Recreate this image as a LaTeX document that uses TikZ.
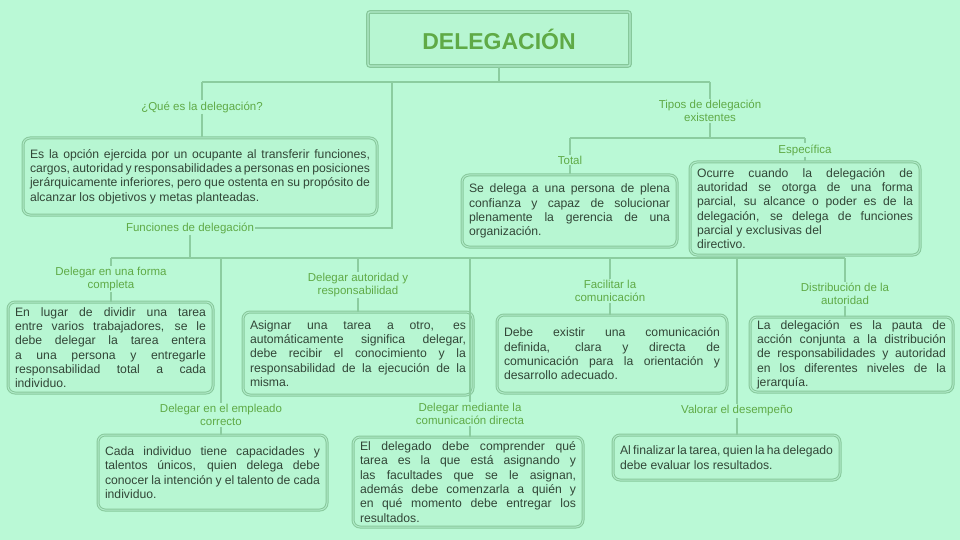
\documentclass[tikz,border=0pt]{standalone}
\usepackage{fontspec}
\setmainfont{Liberation Sans}
\definecolor{bgc}{RGB}{186,249,214}
\definecolor{boxc}{RGB}{135,200,155}
\definecolor{boxin}{RGB}{175,235,200}
\definecolor{boxfill}{RGB}{183,246,210}
\definecolor{linec}{RGB}{140,205,160}
\definecolor{labc}{RGB}{95,170,70}
\definecolor{txtc}{RGB}{50,70,55}
\newcommand{\nohy}{\hyphenpenalty=10000\exhyphenpenalty=10000\tolerance=9999\emergencystretch=20pt}
\tikzset{
  cbox/.style={rectangle, rounded corners=7pt, draw=boxc, line width=1pt,
    double=boxin, double distance=1pt, fill=boxfill, align=justify,
    text=txtc, font=\fontsize{12.2}{14.3}\selectfont\nohy, inner xsep=7pt, inner ysep=3pt},
  lab/.style={text=labc, align=center, font=\fontsize{11.5}{13.5}\selectfont, inner sep=1pt},
  conn/.style={draw=linec, line width=1.3pt},
}
\begin{document}
\begin{tikzpicture}[x=1pt,y=-1pt]
\fill[bgc] (0,0) rectangle (960,540);
\useasboundingbox (0,0) rectangle (960,540);

% title
\node[rectangle, rounded corners=2pt, draw=boxc, line width=1.2pt, double=boxin, double distance=1.2pt,
  fill=boxfill, minimum width=262pt, minimum height=54pt, text=labc,
  font=\fontsize{23}{26}\selectfont\bfseries] (title) at (499,39) {DELEGACIÓN};

% labels
\node[lab] (lque) at (202,107) {¿Qué es la delegación?};
\node[lab] (ltipos) at (710,111) {Tipos de delegación\\existentes};
\node[lab] (ltotal) at (570,160) {Total};
\node[lab] (lesp) at (805,150) {Específica};
\node[lab] (lfun) at (190,228) {Funciones de delegación};
\node[lab] (lcomp) at (111,279) {Delegar en una forma\\completa};
\node[lab] (laut) at (358,285) {Delegar autoridad y\\responsabilidad};
\node[lab] (lfac) at (610,291) {Facilitar la\\comunicación};
\node[lab] (ldis) at (845,294) {Distribución de la\\autoridad};
\node[lab] (lemp) at (221,415) {Delegar en el empleado\\correcto};
\node[lab] (ldir) at (470,414) {Delegar mediante la\\comunicación directa};
\node[lab] (lval) at (737,411) {Valorar el desempeño};

% boxes
\node[cbox, minimum width=354pt, minimum height=77pt, text width=340pt] (bque) at (200,176.5)
 {Es la opción ejercida por un ocupante al transferir funciones, cargos, autoridad y responsabilidades a personas en posiciones jerárquicamente inferiores, pero que ostenta en su propósito de alcanzar los objetivos y metas planteadas.};
\node[cbox, minimum width=215pt, minimum height=72pt, text width=201pt] (btotal) at (569.5,211)
 {Se delega a una persona de plena confianza y capaz de solucionar plenamente la gerencia de una organización.};
\node[cbox, minimum width=230pt, minimum height=93pt, text width=216pt] (besp) at (805,208.5)
 {Ocurre cuando la delegación de autoridad se otorga de una forma parcial, su alcance o poder es de la delegación, se delega de funciones parcial y exclusivas del\newline directivo.};
\node[cbox, minimum width=205pt, minimum height=91pt, text width=191pt] (bcomp) at (110.5,347.5)
 {En lugar de dividir una tarea entre varios trabajadores, se le debe delegar la tarea entera a una persona y entregarle responsabilidad total a cada individuo.};
\node[cbox, minimum width=230pt, minimum height=83pt, text width=216pt] (baut) at (358,353.5)
 {Asignar una tarea a otro, es automáticamente significa delegar, debe recibir el conocimiento y la responsabilidad de la ejecución de la misma.};
\node[cbox, minimum width=230pt, minimum height=78pt, text width=216pt] (bfac) at (612,354)
 {Debe existir una comunicación\linebreak definida, clara y directa de\linebreak comunicación para la orientación y\linebreak desarrollo adecuado.};
\node[cbox, minimum width=203pt, minimum height=75pt, text width=189pt] (bdis) at (851.5,354.5)
 {La delegación es la pauta de acción conjunta a la distribución de responsabilidades y autoridad en los diferentes niveles de la jerarquía.};
\node[cbox, minimum width=229pt, minimum height=75pt, text width=215pt] (bemp) at (212.5,472.5)
 {Cada individuo tiene capacidades y talentos únicos, quien delega debe conocer la intención y el talento de cada individuo.};
\node[cbox, minimum width=230pt, minimum height=90pt, text width=216pt] (bdir) at (468,482)
 {El delegado debe comprender qué tarea es la que está asignando y las facultades que se le asignan, además debe comenzarla a quién y en qué momento debe entregar los\linebreak resultados.};
\node[cbox, minimum width=227pt, minimum height=45pt, text width=213pt] (bval) at (726.5,457.5)
 {Al finalizar la tarea, quien la ha delegado debe evaluar los resultados.};

% junction coordinates
\coordinate (t1) at (499,82);
\coordinate (tq) at (202,82);
\coordinate (tt) at (710,82);
\coordinate (tf) at (392,82);
\coordinate (tf2) at (392,228);
\coordinate (tp) at (710,138);
\coordinate (tp1) at (570,138);
\coordinate (tp2) at (805,138);
\coordinate (fb) at (190,258);
\coordinate (b1) at (111,258);
\coordinate (b2) at (221,258);
\coordinate (b3) at (358,258);
\coordinate (b4) at (470,258);
\coordinate (b5) at (610,258);
\coordinate (b6) at (737,258);
\coordinate (b7) at (845,258);

% connectors
\draw[conn] (title.south) -- (t1);
\draw[conn] (tq) -- (tt);
\draw[conn] (tq) -- (lque.north);
\draw[conn] (tt) -- (ltipos.north);
\draw[conn] (lque.south) -- (lque.south |- bque.north);
\draw[conn] (tf) -- (tf2) -- (lfun.east);
\draw[conn] (ltipos.south) -- (tp);
\draw[conn] (tp1) -- (tp2);
\draw[conn] (tp1) -- (ltotal.north);
\draw[conn] (tp2) -- (lesp.north);
\draw[conn] (ltotal.south) -- (ltotal.south |- btotal.north);
\draw[conn] (lesp.south) -- (lesp.south |- besp.north);
\draw[conn] (lfun.south) -- (fb);
\draw[conn] (b1) -- (b7);
\draw[conn] (b1) -- (lcomp.north);
\draw[conn] (b2) -- (lemp.north);
\draw[conn] (b3) -- (laut.north);
\draw[conn] (b4) -- (ldir.north);
\draw[conn] (b5) -- (lfac.north);
\draw[conn] (b6) -- (lval.north);
\draw[conn] (b7) -- (ldis.north);
\draw[conn] (lcomp.south) -- (lcomp.south |- bcomp.north);
\draw[conn] (laut.south) -- (laut.south |- baut.north);
\draw[conn] (lfac.south) -- (lfac.south |- bfac.north);
\draw[conn] (ldis.south) -- (ldis.south |- bdis.north);
\draw[conn] (lemp.south) -- (lemp.south |- bemp.north);
\draw[conn] (ldir.south) -- (ldir.south |- bdir.north);
\draw[conn] (lval.south) -- (lval.south |- bval.north);
\end{tikzpicture}
\end{document}
